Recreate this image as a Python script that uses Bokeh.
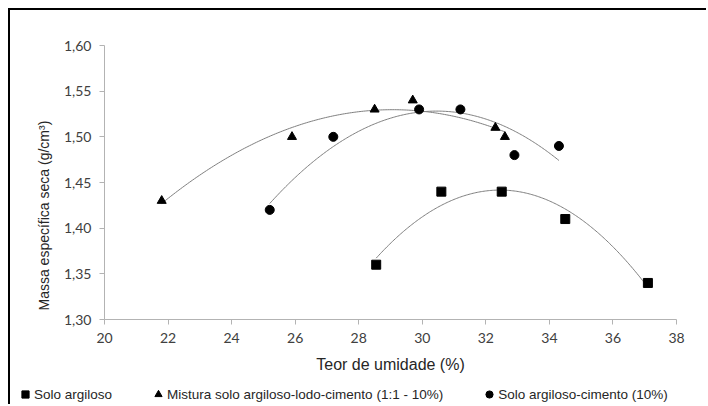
import numpy as np
from bokeh.plotting import figure
from bokeh.layouts import column
from bokeh.models import (Legend, LegendItem, FixedTicker, CustomJSTickFormatter,
                          Range1d, Title)
from bokeh.embed import file_html
from bokeh.resources import INLINE

# --- data ---
solo_x = [28.55, 30.6, 32.5, 34.5, 37.1]
solo_y = [1.36, 1.44, 1.44, 1.41, 1.34]

mist_x = [21.8, 25.9, 28.5, 29.7, 32.3, 32.6]
mist_y = [1.43, 1.50, 1.53, 1.54, 1.51, 1.50]

cim_x = [25.2, 27.2, 29.9, 31.2, 32.9, 34.3]
cim_y = [1.42, 1.50, 1.53, 1.53, 1.48, 1.49]

labels = ["Solo argiloso",
          "Mistura solo argiloso-lodo-cimento (1:1 - 10%)",
          "Solo argiloso-cimento (10%)"]
markers = ["square", "triangle", "circle"]

x_ticks = [20, 22, 24, 26, 28, 30, 32, 34, 36, 38]
y_ticks = [1.30, 1.35, 1.40, 1.45, 1.50, 1.55, 1.60]

x_title = "Teor de umidade (%)"
y_title = "Massa específica seca (g/cm³)"

TICK_FONT = "Lato"
TEXT_FONT = "Liberation Sans"

p = figure(width=696, height=372, output_backend="svg", toolbar_location=None,
           x_range=Range1d(20, 38), y_range=Range1d(1.30, 1.60),
           min_border_left=94, min_border_top=35, min_border_right=30,
           min_border_bottom=63)
p.outline_line_color = None
p.xgrid.visible = False
p.ygrid.visible = False
p.background_fill_color = "white"
p.border_fill_color = "white"


def trend(xs, ys):
    c = np.polyfit(xs, ys, 2)
    xx = np.linspace(min(xs), max(xs), 200)
    return xx, np.polyval(c, xx)


series = [(solo_x, solo_y), (mist_x, mist_y), (cim_x, cim_y)]
for xs, ys in series:
    tx, ty = trend(xs, ys)
    p.line(tx, ty, line_color="#7f7f7f", line_width=1)

for (xs, ys), m in zip(series, markers):
    p.scatter(xs, ys, marker=m, size=9, color="black")

for ax in (p.xaxis[0], p.yaxis[0]):
    ax.axis_line_color = "#b3b3b3"
    ax.major_tick_line_color = "#b3b3b3"
    ax.minor_tick_line_color = None
    ax.major_tick_out = 5
    ax.major_tick_in = 0
    ax.major_label_text_font = TICK_FONT
    ax.major_label_text_font_size = "14px"
    ax.major_label_text_color = "#404040"
    ax.axis_label_text_font = TEXT_FONT
    ax.axis_label_text_font_size = "16px"
    ax.axis_label_text_font_style = "normal"
    ax.axis_label_text_color = "#262626"

p.xaxis.ticker = FixedTicker(ticks=x_ticks)
p.yaxis.ticker = FixedTicker(ticks=y_ticks)
p.yaxis.formatter = CustomJSTickFormatter(code="return tick.toFixed(2).replace('.', ',');")
p.xaxis.major_label_standoff = 8
p.yaxis.major_label_standoff = 8
p.xaxis.axis_label = x_title
p.xaxis.axis_label_standoff = 10

ytitle = Title(text=y_title, align="left", offset=9, standoff=18,
               text_font=TEXT_FONT, text_font_size="14px",
               text_font_style="normal", text_color="#262626")
p.add_layout(ytitle, "left")

# legend strip below the chart
lg = figure(width=696, height=22, output_backend="svg", toolbar_location=None,
            x_range=Range1d(100, 101), y_range=Range1d(100, 101), min_border=0)
lg.frame_align = False
lg.axis.visible = False
lg.grid.visible = False
lg.outline_line_color = None
lg.background_fill_color = "white"
lg.border_fill_color = "white"
items = []
for (xs, ys), lab, m in zip(series, labels, markers):
    r = lg.scatter(xs, ys, marker=m, size=9, color="black")
    items.append(LegendItem(label=lab, renderers=[r]))
legend = Legend(items=items, orientation="horizontal", location=(6, 1),
                spacing=37, glyph_width=18, glyph_height=18, label_standoff=0,
                padding=0, margin=0, border_line_color=None,
                background_fill_alpha=0,
                label_text_font=TEXT_FONT, label_text_font_size="13.5px",
                label_text_color="#262626")
lg.add_layout(legend, "center")

layout = column(p, lg, spacing=0)
layout.styles = {"margin-left": "8px", "margin-top": "8px",
                 "border-top": "2px solid black", "border-left": "2px solid black"}

open("out.html", "w").write(file_html(layout, INLINE))
